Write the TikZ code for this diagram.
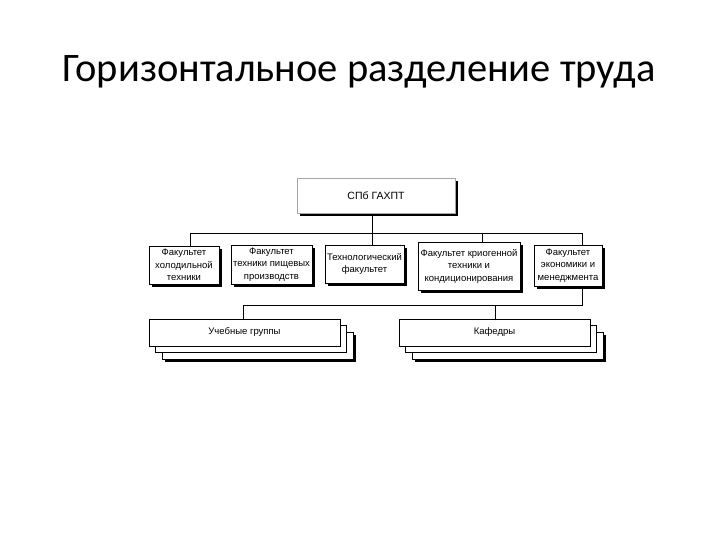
\documentclass[tikz,border=0pt]{standalone}
\usepackage{fontspec}
\setmainfont{Liberation Sans}
\newfontfamily\titlefont{Carlito}
\usetikzlibrary{shadows,backgrounds}
\tikzset{
  shade/.style={drop shadow={shadow xshift=3bp,shadow yshift=-3bp,fill=black,opacity=1}},
  unit/.style={draw,fill=white,line width=0.7bp,inner sep=0pt,align=center,
    font=\fontsize{9.5bp}{12.5bp}\selectfont,shade},
  sheet/.style={draw,fill=white,line width=0.7bp,inner sep=0pt,
    minimum width=191bp,minimum height=27bp,font=\fontsize{9.5bp}{12.5bp}\selectfont},
}
\begin{document}
\begin{tikzpicture}[x=1bp,y=-1bp]
  \useasboundingbox (0,0) rectangle (720,540);
  \node[anchor=base,font=\titlefont\fontsize{40.5bp}{48bp}\selectfont] (title) at (359,82) {Горизонтальное разделение труда};
  % top
  \node[unit,draw=black!35,minimum width=158bp,minimum height=35bp,font=\fontsize{10.5bp}{12bp}\selectfont] (spb) at (376,195.5) {СПб ГАХПТ};
  % faculties
  \node[unit,minimum width=70bp,minimum height=38bp] (fac1) at (184,265) {Факультет\\холодильной\\техники};
  \node[unit,minimum width=81bp,minimum height=39bp] (fac2) at (271.5,264.5) {Факультет\\техники пищевых\\производств};
  \node[unit,minimum width=79bp,minimum height=38bp] (fac3) at (364.5,264) {Технологический\\факультет};
  \node[unit,minimum width=102bp,minimum height=48bp] (fac4) at (469,266) {Факультет криогенной\\техники и\\кондиционирования};
  \node[unit,minimum width=68bp,minimum height=41bp] (fac5) at (568,265.5) {Факультет\\экономики и\\менеджмента};
  % stacks
  \node[sheet,shade] (grp3) at (257.5,345.5) {};
  \node[sheet] (grp2) at (251,339) {};
  \node[sheet] (grp1) at (244.5,332.5) {Учебные группы};
  \node[sheet,shade] (kaf3) at (507.5,345.5) {};
  \node[sheet] (kaf2) at (501,339) {};
  \node[sheet] (kaf1) at (494.5,332.5) {Кафедры};
  % lines
  \begin{scope}[on background layer,line width=0.7bp]
    \coordinate (busL) at (190,233);
    \coordinate (busM) at (372,233);
    \coordinate (bus4) at (482,233);
    \coordinate (busR) at (582,233);
    \coordinate (lowR) at (582,305);
    \coordinate (lowL) at (243,305);
    \coordinate (low2) at (495,305);
    \draw (busL) -- (busR) -- (lowR) -- (lowL);
    \draw (spb.south -| busM) -- (fac3.north -| busM);
    \draw (busL) -- (fac1.north -| busL);
    \draw (bus4) -- (fac4.north -| bus4);
    \draw (lowL) -- (grp1.north -| lowL);
    \draw (low2) -- (kaf1.north -| low2);
  \end{scope}
\end{tikzpicture}
\end{document}
